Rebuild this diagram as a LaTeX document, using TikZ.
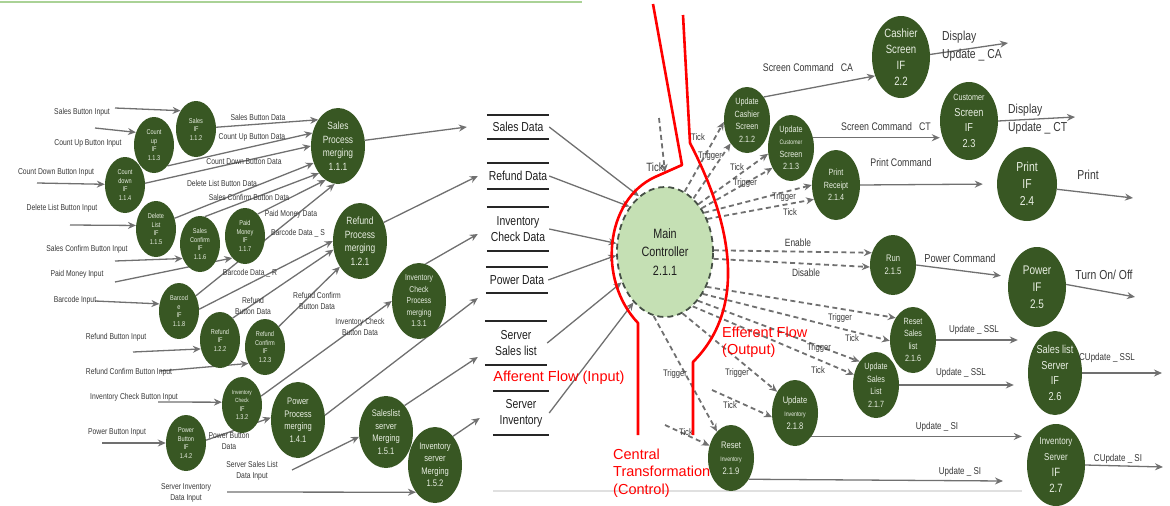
\documentclass[tikz,border=0pt]{standalone}
\usepackage{fontspec}
\setmainfont{Liberation Sans}
\newfontfamily\condfont[FakeStretch=0.8]{Liberation Sans}
\usepackage{tikz}
\usetikzlibrary{shapes.geometric, arrows.meta, backgrounds}
\definecolor{bubgreen}{RGB}{56, 87, 35}
\definecolor{bubtext}{RGB}{232, 238, 226}
\definecolor{ctlgreen}{RGB}{197, 224, 180}
\definecolor{dashgray}{RGB}{70, 80, 70}
\definecolor{flowgray}{RGB}{112, 112, 112}
\definecolor{txtgray}{RGB}{55, 55, 55}
\definecolor{txtdark}{RGB}{30, 30, 30}
\definecolor{topgreen}{RGB}{170, 210, 150}
\newcommand\fsz[2]{\condfont\fontsize{#1}{#2}\selectfont}

\begin{document}
\begin{tikzpicture}[x=1pt, y=-1pt, >={Stealth[length=8pt,width=7pt]},
    ifbub/.style={ellipse, fill=bubgreen, text=bubtext, inner sep=0pt, align=center, minimum width=40pt, minimum height=56pt, font=\fsz{7}{8.5}},
    procbub/.style={ifbub, minimum width=54pt, minimum height=76pt, font=\fsz{10.5}{13.5}},
    ctlbub/.style={ifbub, minimum width=46pt, minimum height=66pt, font=\fsz{9}{12.5}},
    outbub/.style={ifbub, minimum width=58pt, minimum height=80pt, font=\fsz{12}{16}},
    mainbub/.style={ellipse, fill=ctlgreen, draw=dashgray, line width=1.8pt, dash pattern=on 6pt off 4pt, minimum width=96pt, minimum height=130pt, align=center, text=txtdark, font=\fsz{13.5}{18.5}},
    store/.style={minimum width=62pt, inner sep=0pt, align=center, text=txtdark, font=\fsz{13}{16}},
    lbl/.style={inner sep=0pt, align=center, text=txtgray, font=\fsz{8.5}{11.5}},
    sig/.style={lbl, font=\fsz{9.5}{11}},
    cmd/.style={lbl, font=\fsz{11}{14}},
    flow/.style={->, draw=flowgray, line width=1.3pt},
    ctl/.style={flow, line width=1.8pt, dash pattern=on 5pt off 3.5pt},
    storeline/.style={draw=black!85, line width=1.7pt},
    redline/.style={draw=red, line width=2.6pt},
    redtxt/.style={inner sep=0pt, align=left, text=red, font=\fontsize{14.5}{17.5}\selectfont}]
    \useasboundingbox (0,0) rectangle (1170,506);

    % Page rules
    \draw[topgreen, line width=2pt] (0,2) -- (582,2);
    \draw[black!12, line width=1.2pt] (493,491) -- (1022,491);

    % Interface bubbles (input side)
    \node[ifbub] (salesif) at (196,129) {Sales\\IF\\1.1.2};
    \node[ifbub] (countupif) at (154,145) {Count\\up\\IF\\1.1.3};
    \node[ifbub] (countdownif) at (125,185) {Count\\down\\IF\\1.1.4};
    \node[ifbub] (deleteif) at (156,229) {Delete\\List\\IF\\1.1.5};
    \node[ifbub] (confirmif) at (200,244) {Sales\\Confirm\\IF\\1.1.6};
    \node[ifbub] (paidif) at (245,236) {Paid\\Money\\IF\\1.1.7};
    \node[ifbub] (barcodeif) at (179,311) {Barcod\\e\\IF\\1.1.8};
    \node[ifbub] (refundif) at (220,340) {Refund\\IF\\1.2.2};
    \node[ifbub] (refconfif) at (265,347) {Refund\\Confirm\\IF\\1.2.3};
    \node[ifbub, font=\fsz{6}{8.5}] (invchkif) at (242,405) {Inventory\\Check\\{\fsz{7}{8.5}IF}\\{\fsz{7}{8.5}1.3.2}};
    \node[ifbub] (powerbtnif) at (186,443) {Power\\Button\\IF\\1.4.2};

    % Merging processes
    \node[procbub] (salesproc) at (338,146) {Sales\\Process\\merging\\1.1.1};
    \node[procbub] (refundproc) at (360,241) {Refund\\Process\\merging\\1.2.1};
    \node[procbub, font=\fsz{8.5}{11.5}] (invchkproc) at (419,301) {Inventory\\Check\\Process\\merging\\1.3.1};
    \node[procbub, font=\fsz{9.5}{12.5}] (powerproc) at (298,420) {Power\\Process\\merging\\1.4.1};
    \node[procbub, font=\fsz{9.5}{12.5}, minimum height=72pt] (slserver) at (386,432) {Saleslist\\server\\Merging\\1.5.1};
    \node[procbub, font=\fsz{9.5}{12.5}] (invserver) at (435,465) {Inventory\\server\\Merging\\1.5.2};

    % Data stores
    \node[store, minimum height=24pt] (salesdata) at (518,127) {Sales Data};
    \node[store, minimum height=25pt] (refunddata) at (518,176) {Refund Data};
    \node[store, minimum height=44pt] (invchkdata) at (518,229) {Inventory\\Check Data};
    \node[store, minimum height=25pt] (powerdata) at (517,280) {Power Data};
    \node[store, minimum height=44pt] (serversales) at (516,343) {Server\\Sales list};
    \node[store, minimum height=44pt, minimum width=56pt] (serverinv) at (521,413) {Server\\Inventory};
    \foreach \s in {salesdata, refunddata, invchkdata, powerdata, serversales, serverinv}
        \draw[storeline] (\s.north west) -- (\s.north east) (\s.south west) -- (\s.south east);

    % Controller
    \node[mainbub] (main) at (665,252) {Main\\Controller\\2.1.1};

    % Output side bubbles
    \node[ctlbub] (uc) at (747,120) {Update\\Cashier\\Screen\\2.1.2};
    \node[ctlbub] (ucu) at (791,148) {Update\\{\fsz{6.5}{8}Customer}\\Screen\\2.1.3};
    \node[ctlbub, minimum width=48pt, minimum height=70pt] (pr) at (836,185) {Print\\Receipt\\2.1.4};
    \node[ctlbub, minimum height=60pt, font=\fsz{9.5}{13}] (run) at (893,265) {Run\\2.1.5};
    \node[ctlbub] (rsl) at (913,340) {Reset\\Sales\\list\\2.1.6};
    \node[ctlbub] (usl) at (876,385) {Update\\Sales\\List\\2.1.7};
    \node[ctlbub, font=\fsz{9.5}{13}] (ui) at (795,413) {Update\\{\fsz{6.5}{9}Inventory}\\2.1.8};
    \node[ctlbub, font=\fsz{9.5}{13}] (ri) at (731,458) {Reset\\{\fsz{6.5}{9}Inventory}\\2.1.9};
    \node[outbub, minimum height=82pt] (csif) at (901,57) {Cashier\\Screen\\IF\\2.2};
    \node[outbub, minimum height=78pt, font=\fsz{11.5}{15.5}] (cusif) at (969,121) {{\fsz{9}{12}Customer}\\Screen\\IF\\2.3};
    \node[outbub, minimum width=60pt, minimum height=74pt, font=\fsz{13}{17}] (printif) at (1027,184) {Print\\IF\\2.4};
    \node[outbub, font=\fsz{12.5}{17}] (powerif) at (1037,287) {Power\\IF\\2.5};
    \node[outbub, minimum width=54pt, minimum height=84pt, font=\fsz{11.5}{15.5}] (slsif) at (1055,373) {Sales list\\Server\\IF\\2.6};
    \node[outbub, minimum height=82pt, font=\fsz{12}{16}] (invsif) at (1056,465) {{\fsz{10}{14}Inventory}\\{\fsz{10}{14}Server}\\IF\\2.7};

    % Free ends
    \coordinate (iSalesBtn) at (115,108);
    \coordinate (iCountUp) at (95,128);
    \coordinate (iCountDown) at (37,183);
    \coordinate (iDelete) at (70,225);
    \coordinate (iConfirm) at (115,261);
    \coordinate (iPaid) at (115,282);
    \coordinate (iBarcode) at (95,301);
    \coordinate (iRefund) at (133,352);
    \coordinate (iRefConf) at (160,371);
    \coordinate (iInvChk) at (158,402);
    \coordinate (iPower) at (102,443);
    \coordinate (iSrvSales) at (292,470);
    \coordinate (iSrvInv) at (227,492);
    \coordinate (maintick) at (659,118);
    \coordinate (uitick) at (712,390);
    \coordinate (ritick) at (665,425);
    \coordinate (csout) at (1008,43);
    \coordinate (cuout) at (1075,117);
    \coordinate (prout) at (1133,198);
    \coordinate (pwrout) at (1135,297);
    \coordinate (slsout) at (1162,373);
    \coordinate (riout) at (1003,481);
    \coordinate (isout) at (1163,467);

    \begin{scope}[on background layer]
    % Inputs
    \draw[flow] (iSalesBtn) -- (salesif.130);
    \draw[flow] (iCountUp) -- (countupif.145);
    \draw[flow] (iCountDown) -- (countdownif.178);
    \draw[flow] (iDelete) -- (deleteif.170);
    \draw[flow] (iConfirm) -- (confirmif.220);
    \draw[flow] (iPaid) -- (paidif.240);
    \draw[flow] (iBarcode) -- (barcodeif.160);
    \draw[flow] (iRefund) -- (refundif.205);
    \draw[flow] (iRefConf) -- (refconfif.225);
    \draw[flow] (iInvChk) -- (invchkif.172);
    \draw[flow] (iPower) -- (powerbtnif.180);
    \draw[flow] (iSrvSales) -- (slserver.190);
    \draw[flow] (iSrvInv) -- (invserver.235);

    % Button data into merging
    \draw[flow] (salesif.5) -- (salesproc.127);
    \draw[flow] (countupif.-57) -- (salesproc.153);
    \draw[flow] (countdownif.5) -- (salesproc.180);
    \draw[flow] (deleteif.30) -- (salesproc.215);
    \draw[flow] (confirmif.80) -- (salesproc.235);
    \draw[flow] (paidif.60) -- (salesproc.250);
    \draw[flow] (barcodeif.42) -- (salesproc.265);
    \draw[flow] (barcodeif.5) -- (refundproc.180);
    \draw[flow] (refundif.60) -- (refundproc.198);
    \draw[flow] (refconfif.56) -- (refundproc.232);
    \draw[flow] (invchkif.25) -- (invchkproc.180);
    \draw[flow] (powerbtnif.8) -- (powerproc.175);

    % Merging into stores
    \draw[flow] (salesproc.12) -- ([xshift=-20pt]salesdata.west);
    \draw[flow] (refundproc.38) -- ([xshift=-9pt]refunddata.west);
    \draw[flow] (invchkproc.80) -- ([xshift=-9pt, yshift=-5pt]invchkdata.west);
    \draw[flow] (powerproc.10) -- ([xshift=-8pt, yshift=-18pt]powerdata.west);
    \draw[flow] (slserver.55) -- ([xshift=-7pt, yshift=-14pt]serversales.west);
    \draw[flow] (invserver.58) -- ([xshift=-13pt, yshift=-5pt]serverinv.west);

    % Stores into controller
    \draw[flow] (salesdata.east) -- (main.115);
    \draw[flow] (refunddata.east) -- (main.128);
    \draw[flow] (invchkdata.east) -- (main.170);
    \draw[flow] (powerdata.east) -- (main.184);
    \draw[flow] (serversales.east) -- (main.215);
    \draw[flow] (serverinv.east) -- (main.238);

    % Control signals
    \draw[ctl] (maintick) -- ([yshift=14pt]main.north);
    \draw[ctl] (main.72) -- (uc.185);
    \draw[ctl] (main.62) -- (uc.235);
    \draw[ctl] (main.55) -- (ucu.194);
    \draw[ctl] (main.50) -- (ucu.227);
    \draw[ctl] (main.45) -- (pr.180);
    \draw[ctl] (main.38) -- (pr.213);
    \draw[ctl] (main.2) -- (run.150);
    \draw[ctl] (main.-8) -- (run.185);
    \draw[ctl] (main.-40) -- (rsl.128);
    \draw[ctl] (main.-48) -- (rsl.182);
    \draw[ctl] (main.-56) -- (usl.125);
    \draw[ctl] (main.-63) -- (usl.155);
    \draw[ctl] (main.-74) -- (ui.130);
    \draw[ctl] (uitick) -- (ui.190);
    \draw[ctl] (main.-100) -- (ri.118);
    \draw[ctl] (ritick) -- (ri.150);

    % Outputs
    \draw[flow] (uc.54) -- (csif.216);
    \draw[flow] (ucu.25) -- (ucu.25 -| cusif.west);
    \draw[flow, shorten >=14pt] (pr.east) -- (printif.west);
    \draw[flow] (csif.5) -- (csout);
    \draw[flow] (cusif.east) -- (cuout);
    \draw[flow] (printif.-10) -- (prout);
    \draw[flow, shorten >=8pt] (run.east) -- (powerif.160);
    \draw[flow] (powerif.5) -- (pwrout);
    \draw[flow, shorten >=10pt] (rsl.east) -- (rsl.east -| slsif.west);
    \draw[flow, shorten >=14pt] (usl.east) -- (usl.east -| slsif.west);
    \draw[flow] (slsif.east) -- (slsout);
    \draw[flow, shorten >=5pt] (ui.-55) -- (ui.-55 -| invsif.west);
    \draw[flow] (ri.-50) -- (riout);
    \draw[flow] (invsif.east) -- (isout);
    \end{scope}

    % Input labels
    \node[lbl] (lSalesBtn) at (82,112) {Sales Button Input};
    \node[lbl] (lCountUp) at (88,143) {Count Up Button Input};
    \node[lbl] (lCountDown) at (56,172) {Count Down Button Input};
    \node[lbl] (lDelete) at (62,208) {Delete List Button Input};
    \node[lbl] (lConfirm) at (87,249) {Sales Confirm Button Input};
    \node[lbl] (lPaid) at (77,274) {Paid Money Input};
    \node[lbl] (lBarcode) at (75,300) {Barcode Input};
    \node[lbl] (lRefund) at (116,337) {Refund Button Input};
    \node[lbl] (lRefConf) at (129,372) {Refund Confirm Button Input};
    \node[lbl] (lInvChk) at (134,397) {Inventory Check Button Input};
    \node[lbl] (lPower) at (117,432) {Power Button Input};
    \node[lbl] (lSrvSales) at (252,471) {Server Sales List\\Data Input};
    \node[lbl] (lSrvInv) at (186,493) {Server Inventory\\Data Input};

    % Data labels
    \node[lbl] (dSalesBtn) at (258,117) {Sales Button Data};
    \node[lbl] (dCountUp) at (252,137) {Count Up Button Data};
    \node[lbl] (dCountDown) at (244,162) {Count Down Button Data};
    \node[lbl] (dDelete) at (222,183) {Delete List Button Data};
    \node[lbl] (dConfirm) at (249,197) {Sales Confirm Button Data};
    \node[lbl] (dPaid) at (291,214) {Paid Money Data};
    \node[lbl] (dBarS) at (298,233) {Barcode Data \_ S};
    \node[lbl] (dBarR) at (250,273) {Barcode Data \_ R};
    \node[lbl] (dRefund) at (253,306) {Refund\\Button Data};
    \node[lbl] (dRefConf) at (317,301) {Refund Confirm\\Button Data};
    \node[lbl] (dInvChk) at (360,327) {Inventory Check\\Button Data};
    \node[lbl] (dPower) at (229,441) {Power Button\\Data};

    % Signal labels
    \node[cmd, font=\fsz{12}{14}] (tMain) at (655,167) {Tick};
    \node[sig] (tUc) at (698,137) {Tick};
    \node[sig] (gUc) at (710,156) {Trigger};
    \node[sig] (tUcu) at (737,167) {Tick};
    \node[sig] (gUcu) at (745,183) {Trigger};
    \node[sig] (gPr) at (784,197) {Trigger};
    \node[sig] (tPr) at (790,212) {Tick};
    \node[cmd, font=\fsz{10.5}{12}] (enable) at (798,243) {Enable};
    \node[cmd, font=\fsz{10.5}{12}] (disable) at (806,273) {Disable};
    \node[sig] (gRsl) at (840,318) {Trigger};
    \node[sig] (tRsl) at (852,338) {Tick};
    \node[sig] (gUsl) at (819,348) {Trigger};
    \node[sig] (tUsl) at (818,370) {Tick};
    \node[sig] (gUi) at (737,373) {Trigger};
    \node[sig] (tUi) at (730,405) {Tick};
    \node[sig] (gRi) at (675,374) {Trigger};
    \node[sig] (tRi) at (686,432) {Tick};

    % Output labels
    \node[cmd] (scCa) at (808,68) {Screen Command\hspace{7pt}CA};
    \node[cmd] (scCt) at (886,127) {Screen Command\hspace{7pt}CT};
    \node[cmd] (prCmd) at (901,163) {Print Command};
    \node[cmd, font=\fsz{13}{18}, align=left, anchor=west] (duCa) at (942,46) {Display\\Update \_ CA};
    \node[cmd, font=\fsz{13}{18}, align=left, anchor=west] (duCt) at (1008,119) {Display\\Update \_ CT};
    \node[cmd, font=\fsz{13}{15}] (prOut) at (1088,175) {Print};
    \node[cmd, font=\fsz{11.5}{14}] (pwCmd) at (960,258) {Power Command};
    \node[cmd, font=\fsz{13}{15}] (onoff) at (1104,275) {Turn On/ Off};
    \node[cmd, font=\fsz{10}{12}] (ssl1) at (974,330) {Update \_ SSL};
    \node[cmd, font=\fsz{10}{12}] (ssl2) at (961,373) {Update \_ SSL};
    \node[cmd, font=\fsz{10}{12}] (ssl3) at (1107,358) {CUpdate \_ SSL};
    \node[cmd, font=\fsz{10}{12}] (si1) at (937,427) {Update \_ SI};
    \node[cmd, font=\fsz{10}{12}] (si2) at (960,472) {Update \_ SI};
    \node[cmd, font=\fsz{10}{12}] (si3) at (1118,459) {CUpdate \_ SI};

    % Transform boundary
    \draw[redline, line join=round] (653,4) -- (682,165) -- (655,177) .. controls (605,200) and (597,280) .. (638,323) -- (638,435);
    \draw[redline, line join=round] (683,15) -- (690,143) .. controls (735,230) and (745,310) .. (693,362) -- (693,435);
    \node[redtxt] (afferent) at (559,378) {Afferent Flow (Input)};
    \node[redtxt, anchor=west] (efferent) at (722,342) {Efferent Flow\\(Output)};
    \node[redtxt, anchor=west] (central) at (613,473) {Central\\Transformation\\(Control)};
\end{tikzpicture}
\end{document}
